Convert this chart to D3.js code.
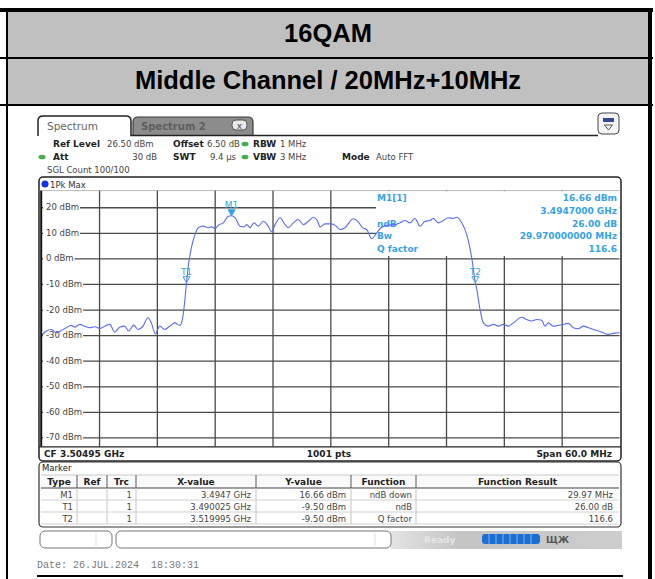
<!DOCTYPE html>
<html>
<head>
<meta charset="utf-8">
<script src="https://cdn.jsdelivr.net/npm/d3@7"></script>
<style>
  body { margin: 0; background: #fff; }
  svg { display: block; }
</style>
</head>
<body>
<svg id="page" width="655" height="579"></svg>
<script>
'use strict';

// ---- data ----
var titleRows = ["16QAM", "Middle Channel / 20MHz+10MHz"];

var centerGHz = 3.50495;
var spanMHz = 60;
var gridDbm = [20, 10, 0, -10, -20, -30, -40, -50, -60, -70];
var gridFreqMHz = [6, 12, 18, 24, 30, 36, 42, 48, 54];

// trace 1 (Pk Max), frequency as offset from span start in MHz
var freqOffsetMHz = [0, 0.53, 1.05, 1.57, 2.09, 2.60, 3.12, 3.48, 3.99, 4.51,
  5.03, 5.55, 6.07, 6.59, 7.11, 7.63, 8.14, 8.66, 9.08, 9.60,
  10.04, 10.56, 11.08, 11.42, 11.84, 12.30, 12.81, 13.33, 13.85, 14.37,
  14.61, 14.82, 15.075, 15.26, 15.62, 15.96, 16.30, 16.82, 17.34, 17.69,
  18.03, 18.38, 18.89, 19.41, 19.75, 20.11, 20.63, 21.04, 21.32, 21.66,
  22.08, 22.53, 23.04, 23.56, 23.92, 24.26, 24.78, 25.30, 25.64, 26.16,
  26.68, 27.19, 27.71, 28.23, 28.65, 28.93, 29.45, 29.97, 30.48, 31.00,
  31.52, 32.38, 32.90, 33.32, 33.77, 34.29, 34.81, 35.33, 36.01, 36.71,
  37.23, 37.75, 38.27, 38.78, 39.30, 39.82, 40.34, 40.68, 41.20, 41.72,
  42.24, 42.76, 43.11, 43.63, 44.15, 44.67, 45.045, 45.19, 45.53, 45.87,
  46.39, 46.91, 47.43, 47.95, 48.47, 48.99, 49.85, 50.37, 50.89, 51.41,
  51.93, 52.27, 52.61, 53.13, 53.65, 54.17, 54.69, 55.21, 55.73, 56.25,
  56.77, 57.29, 57.81, 58.32, 58.84, 59.36, 59.88, 60];
var levelDbm = [-30.4, -28.4, -27.8, -29.1, -28.2, -27.1, -26.2, -26.9, -25.8, -26.5,
  -27.1, -26.7, -27.4, -26.5, -25.8, -28.8, -26.9, -26.5, -28.4, -26.1,
  -27.8, -26.5, -23.2, -25.2, -29.5, -26.5, -27.8, -26.5, -25.2, -26.2,
  -24.5, -19.3, -9.5, -3, 4.8, 9.3, 12, 12.6, 12, 12.3,
  11.7, 13, 13.9, 16.5, 16.66, 15.9, 12.6, 12.3, 13.2, 12,
  13.9, 12.6, 14.5, 12.6, 10.4, 13.2, 15.9, 13.2, 12, 13.9,
  15.2, 13.2, 14.5, 16.1, 14.8, 12.3, 13.5, 13.5, 13, 11.3,
  12, 15.5, 14.3, 12, 11.3, 7.7, 10, 12.2, 13, 13.2,
  13.9, 14.8, 13.9, 15.6, 12.6, 14.5, 14.8, 15.6, 13.9, 14.8,
  15.9, 15.6, 16.1, 13.9, 9.3, 0.2, -9.5, -12.1, -20, -25.2,
  -26.5, -25.8, -26.5, -25.8, -26.5, -25.2, -23, -23.9, -24.5, -23.9,
  -24.2, -26.5, -25.2, -26.5, -26.2, -25.8, -25.4, -27.1, -27.5, -26.5,
  -27.1, -27.8, -28.4, -29.1, -29.7, -29.3, -29.1, -29.0];

// markers
var markerNames = ["M1", "T1", "T2"];
var markerOffsetMHz = [19.75, 15.075, 45.045];
var markerLevel = [16.66, -9.5, -9.5];
var markerXText = ["3.4947 GHz", "3.490025 GHz", "3.519995 GHz"];
var markerYText = ["16.66 dBm", "-9.50 dBm", "-9.50 dBm"];
var markerFunc = ["ndB down", "ndB", "Q factor"];
var markerResult = ["29.97 MHz", "26.00 dB", "116.6"];

var infoLabels = ["M1[1]", "", "ndB", "Bw", "Q factor"];
var infoValues = ["16.66 dBm", "3.4947000 GHz", "26.00 dB", "29.970000000 MHz", "116.6"];

var tableHeads = ["Type", "Ref", "Trc", "X-value", "Y-value", "Function", "Function Result"];

// ---- drawing ----
var svg = d3.select("#page");
var UI = "DejaVu Sans, Verdana, sans-serif";
var traceColor = "#5a6cf2";
var mkColor = "#36a2e6";

// outer report table
svg.append("rect").attr("x", 8).attr("y", 12).attr("width", 640).attr("height", 45).attr("fill", "#c0c0c0");
svg.append("rect").attr("x", 8).attr("y", 59).attr("width", 640).attr("height", 45).attr("fill", "#c0c0c0");
svg.append("rect").attr("x", 0).attr("y", 8).attr("width", 653).attr("height", 4).attr("fill", "#000");
svg.append("rect").attr("x", 0).attr("y", 57).attr("width", 653).attr("height", 2).attr("fill", "#000");
svg.append("rect").attr("x", 0).attr("y", 104).attr("width", 653).attr("height", 2).attr("fill", "#000");
svg.append("rect").attr("x", 6).attr("y", 8).attr("width", 2).attr("height", 571).attr("fill", "#000");
svg.append("rect").attr("x", 648).attr("y", 8).attr("width", 4).attr("height", 571).attr("fill", "#000");

svg.selectAll("text.title").data(titleRows).enter().append("text")
  .attr("class", "title")
  .attr("x", 328).attr("y", function(d, i) { return 42 + i * 47; })
  .attr("text-anchor", "middle")
  .style("font-family", "Liberation Sans, Arial, sans-serif")
  .style("font-weight", "bold").style("font-size", "25.5px")
  .text(function(d) { return d; });

// tabs
svg.append("path")
  .attr("d", "M133,135 V122 Q133,117 138,117 H248 Q253,117 253,122 V135")
  .attr("fill", "#8c8c8c").attr("stroke", "#3a3a3a").attr("stroke-width", 1.2);
svg.append("text").attr("x", 141).attr("y", 130).text("Spectrum 2")
  .style("font-family", UI).style("font-size", "10px").style("font-weight", "bold").attr("fill", "#5e5e5e");
svg.append("rect").attr("x", 232).attr("y", 120).attr("width", 15).attr("height", 10).attr("rx", 4)
  .attr("fill", "#e8e8e8").attr("stroke", "#555");
svg.append("text").attr("x", 239.5).attr("y", 128.5).attr("text-anchor", "middle").text("x")
  .style("font-family", UI).style("font-size", "9px").attr("fill", "#444");
svg.append("path").attr("d", "M130,135.5 H598").attr("stroke", "#222").attr("stroke-width", 1.5);
svg.append("path")
  .attr("d", "M38,136 V121 Q38,116 43,116 H126 Q131,116 131,121 V136")
  .attr("fill", "#fff").attr("stroke", "#222").attr("stroke-width", 1.5);
svg.append("text").attr("x", 47).attr("y", 130).text("Spectrum")
  .style("font-family", UI).style("font-size", "10.5px").attr("fill", "#666");
// toolbar icon
svg.append("rect").attr("x", 598).attr("y", 113).attr("width", 21).attr("height", 21).attr("rx", 4)
  .attr("fill", "#f4f4f4").attr("stroke", "#444");
svg.append("rect").attr("x", 603).attr("y", 118).attr("width", 11).attr("height", 4).attr("fill", "#334a9a");
svg.append("path").attr("d", "M604.5,125 H612.5 L608.5,130 Z").attr("fill", "none").attr("stroke", "#555");

// settings block
var bold = function(px, py, t) {
  return svg.append("text").attr("x", px).attr("y", py).text(t)
    .style("font-family", UI).style("font-size", "9px").style("font-weight", "bold").attr("fill", "#222");
};
var plain = function(px, py, t, anchor) {
  return svg.append("text").attr("x", px).attr("y", py).text(t).attr("text-anchor", anchor || "start")
    .style("font-family", UI).style("font-size", "8.5px").attr("fill", "#444");
};
var dot = function(px, py) {
  svg.append("ellipse").attr("cx", px).attr("cy", py).attr("rx", 3.5).attr("ry", 2.3).attr("fill", "#43b04a");
};
bold(53, 147, "Ref Level"); plain(107, 147, "26.50 dBm");
bold(173, 147, "Offset"); plain(207, 147, "6.50 dB");
dot(245, 144); bold(253, 147, "RBW"); plain(280, 147, "1 MHz");
dot(42, 157); bold(53, 160, "Att"); plain(157, 160, "30 dB", "end");
bold(173, 160, "SWT"); plain(236, 160, "9.4 µs", "end");
dot(245, 157); bold(253, 160, "VBW"); plain(280, 160, "3 MHz");
bold(342, 160, "Mode"); plain(376, 160, "Auto FFT");
plain(47, 173, "SGL Count 100/100");

// trace window
svg.append("rect").attr("x", 39).attr("y", 177).attr("width", 582).attr("height", 284).attr("rx", 4)
  .attr("fill", "#fff").attr("stroke", "#222").attr("stroke-width", 1.5);
svg.append("circle").attr("cx", 45).attr("cy", 184).attr("r", 3.5).attr("fill", "#1430f0");
plain(50, 187.5, "1Pk Max").attr("fill", "#333");

var pLeft = 41.2, pRight = 619.5, pTop = 190.6, pBottom = 446.4;
var x = d3.scaleLinear().domain([0, spanMHz]).range([pLeft, pRight]);
var y = d3.scaleLinear().domain([-73.5, 26.5]).range([pBottom, pTop]);

var plot = svg.append("g");

// vertical grid via axis
plot.append("g").attr("transform", "translate(0," + pBottom + ")")
  .call(d3.axisBottom(x).tickValues(gridFreqMHz).tickSize(-(pBottom - pTop)).tickFormat(""))
  .call(function(g) {
    g.select(".domain").remove();
    g.selectAll("line").attr("stroke", "#4a4a4a").attr("stroke-width", 1.3);
  });
// horizontal grid via axis
plot.append("g").attr("transform", "translate(" + pLeft + ",0)")
  .call(d3.axisRight(y).tickValues(gridDbm).tickSize(pRight - pLeft).tickFormat(""))
  .call(function(g) {
    g.select(".domain").remove();
    g.selectAll("line").attr("stroke", "#4a4a4a").attr("stroke-width", 1.3);
  });

// level labels with white backing
gridDbm.forEach(function(v) {
  var t = plot.append("text").attr("x", 46).attr("y", y(v) + 3)
    .style("font-family", UI).style("font-size", "8.5px").attr("fill", "#444")
    .text(v + " dBm");
  var w = t.node().getComputedTextLength();
  plot.insert("rect", function() { return t.node(); })
    .attr("x", 43).attr("y", y(v) - 5).attr("width", w + 4).attr("height", 10).attr("fill", "#fff");
});

// marker info area covers the grid
plot.append("rect").attr("x", 376).attr("y", pTop + 0.5).attr("width", pRight - 376).attr("height", 65)
  .attr("fill", "#fff");

infoLabels.forEach(function(t, i) {
  var yy = 201 + i * 12.8;
  if (t) plot.append("text").attr("x", 377).attr("y", yy).text(t)
    .style("font-family", UI).style("font-size", "9px").style("font-weight", "bold").attr("fill", mkColor);
  plot.append("text").attr("x", 617).attr("y", yy).attr("text-anchor", "end").text(infoValues[i])
    .style("font-family", UI).style("font-size", "9px").style("font-weight", "bold").attr("fill", mkColor);
});

// trace
var traceData = freqOffsetMHz.map(function(f, i) { return [f, levelDbm[i]]; });
plot.append("path").datum(traceData)
  .attr("fill", "none").attr("stroke", traceColor).attr("stroke-width", 1.1)
  .attr("d", d3.line().x(function(d) { return x(d[0]); }).y(function(d) { return y(d[1]); })
    .curve(d3.curveMonotoneX));

// markers
markerNames.forEach(function(n, i) {
  var mx = x(markerOffsetMHz[i]), my = y(markerLevel[i]);
  plot.append("path").attr("d", "M" + (mx - 3.5) + "," + (my - 6) + " H" + (mx + 3.5) + " L" + mx + "," + my + " Z")
    .attr("fill", i === 0 ? mkColor : "none").attr("stroke", mkColor).attr("stroke-width", 1);
  plot.append("text").attr("x", mx).attr("y", my - 8).attr("text-anchor", "middle").text(n)
    .style("font-family", UI).style("font-size", "9px").attr("fill", mkColor);
});

// plot frame
plot.append("path").attr("d", "M" + pLeft + "," + pTop + " V" + pBottom)
  .attr("stroke", "#111").attr("stroke-width", 2);
plot.append("path").attr("d", "M39," + pTop + " H621").attr("stroke", "#888").attr("stroke-width", 0.6);
plot.append("path").attr("d", "M39," + (pBottom + 0.5) + " H621").attr("stroke", "#222").attr("stroke-width", 1.2);

bold(44, 457, "CF " + centerGHz.toFixed(5) + " GHz");
bold(329, 457, "1001 pts").attr("text-anchor", "middle");
bold(612, 457, "Span " + spanMHz.toFixed(1) + " MHz").attr("text-anchor", "end");

// marker table
svg.append("rect").attr("x", 39).attr("y", 462).attr("width", 582).attr("height", 65).attr("rx", 4)
  .attr("fill", "#fff").attr("stroke", "#333").attr("stroke-width", 1.2);
plain(42, 471, "Marker").attr("fill", "#222");
var cols = [41, 77, 107, 136, 256, 351, 416, 619];
var headY = 475, rowH = 12;
svg.append("rect").attr("x", 41).attr("y", headY).attr("width", 578).attr("height", 13).attr("fill", "#fafafa");
svg.append("path").attr("d", "M41," + (headY + 13) + " H619").attr("stroke", "#444").attr("stroke-width", 1.2);
svg.append("path").attr("d", "M41," + headY + " H619").attr("stroke", "#bbb").attr("stroke-width", 0.8);
cols.slice(1, 7).forEach(function(c) {
  svg.append("path").attr("d", "M" + c + "," + headY + " V" + (headY + 13)).attr("stroke", "#555").attr("stroke-width", 1);
  svg.append("path").attr("d", "M" + c + "," + (headY + 13) + " V" + (headY + 13 + 3 * rowH)).attr("stroke", "#c4c4c4").attr("stroke-width", 1);
});
tableHeads.forEach(function(h, i) {
  bold((cols[i] + cols[i + 1]) / 2, headY + 10, h).attr("text-anchor", "middle");
});
markerNames.forEach(function(n, i) {
  var ry = headY + 13 + i * rowH;
  if (i > 0) svg.append("path").attr("d", "M41," + ry + " H619").attr("stroke", "#d0d0d0");
  var base = ry + 9.5;
  plain(cols[1] - 4, base, n, "end");
  plain(cols[3] - 4, base, "1", "end");
  plain(cols[4] - 5, base, markerXText[i], "end");
  plain(cols[5] - 5, base, markerYText[i], "end");
  plain(cols[6] - 4, base, markerFunc[i], "end");
  plain(cols[7] - 6, base, markerResult[i], "end");
});
svg.append("path").attr("d", "M41," + (headY + 13 + 3 * rowH) + " H619").attr("stroke", "#d0d0d0");

// status bar
var grad = svg.append("defs").append("linearGradient").attr("id", "sb").attr("x1", 0).attr("x2", 1);
grad.append("stop").attr("offset", 0).attr("stop-color", "#e4e4e4");
grad.append("stop").attr("offset", 0.3).attr("stop-color", "#c4c4c4");
grad.append("stop").attr("offset", 1).attr("stop-color", "#cdcdcd");
svg.append("rect").attr("x", 390).attr("y", 531).attr("width", 232).attr("height", 18).attr("fill", "url(#sb)");
svg.append("rect").attr("x", 40).attr("y", 531).attr("width", 72).attr("height", 17).attr("rx", 5)
  .attr("fill", "#fff").attr("stroke", "#777");
svg.append("path").attr("d", "M96,533 V546").attr("stroke", "#ddd");
svg.append("rect").attr("x", 116).attr("y", 531).attr("width", 275).attr("height", 17).attr("rx", 5)
  .attr("fill", "#fff").attr("stroke", "#777");
svg.append("path").attr("d", "M375,533 V546").attr("stroke", "#ddd");
svg.append("text").attr("x", 424).attr("y", 543).text("Ready")
  .style("font-family", UI).style("font-size", "9px").style("font-weight", "bold").attr("fill", "#e6e6e6");
svg.append("rect").attr("x", 482).attr("y", 534).attr("width", 58).attr("height", 10).attr("rx", 3).attr("fill", "#1a6fd0");
d3.range(7).forEach(function(k) {
  svg.append("path").attr("d", "M" + (489 + k * 7) + ",534 V544").attr("stroke", "#7fb2ec").attr("stroke-width", 1);
});
svg.append("text").attr("x", 546).attr("y", 543).text("ЩЖ")
  .style("font-family", UI).style("font-size", "9px").style("font-weight", "bold").attr("fill", "#555");

svg.append("text").attr("x", 37).attr("y", 568).text("Date: 26.JUL.2024  18:30:31")
  .attr("xml:space", "preserve").style("white-space", "pre")
  .style("font-family", "Liberation Mono, monospace").style("font-size", "10px").attr("fill", "#7a7a7a");
svg.append("rect").attr("x", 37).attr("y", 575).attr("width", 586).attr("height", 2).attr("fill", "#000");
</script>
</body>
</html>
